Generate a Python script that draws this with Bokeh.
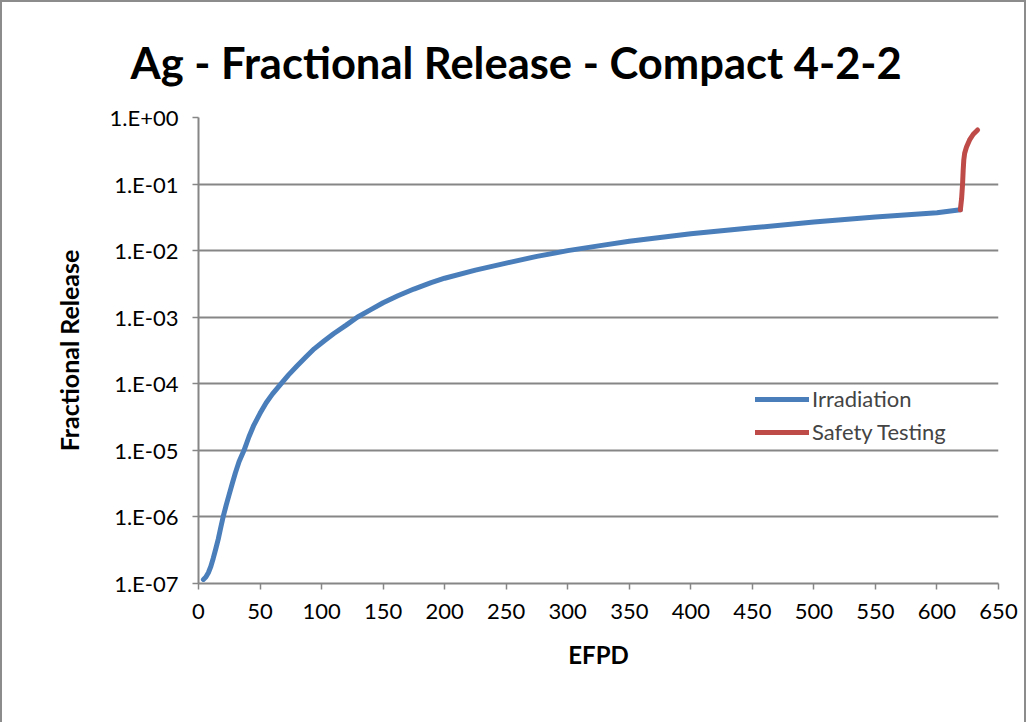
from bokeh.plotting import figure
from bokeh.models import (Range1d, FixedTicker, CustomJSTickFormatter, Legend, LegendItem)
from bokeh.embed import file_html
from bokeh.resources import INLINE

# Irradiation (EFPD, fractional release)
irr_efpd = [4, 6, 8, 10, 12, 14, 16, 18, 20, 22.5, 25, 27.5, 30, 33, 37, 41, 45, 50, 55, 60,
            67, 73, 80, 87, 94, 102, 110, 120, 129, 140, 150, 162, 175, 189, 200, 225, 250,
            275, 300, 325, 350, 375, 400, 450, 500, 550, 600, 619]
irr_fr = [1.15e-7, 1.25e-7, 1.45e-7, 1.8e-7, 2.4e-7, 3.3e-7, 4.6e-7, 6.8e-7, 1.0e-6,
          1.5e-6, 2.2e-6, 3.2e-6, 4.6e-6, 6.8e-6, 1.0e-5, 1.6e-5, 2.4e-5, 3.6e-5, 5.2e-5,
          7.0e-5, 1.0e-4, 1.35e-4, 1.85e-4, 2.5e-4, 3.35e-4, 4.4e-4, 5.7e-4, 7.6e-4, 1.0e-3,
          1.3e-3, 1.65e-3, 2.1e-3, 2.65e-3, 3.3e-3, 3.85e-3, 5.1e-3, 6.5e-3, 8.2e-3, 1.0e-2,
          1.18e-2, 1.38e-2, 1.58e-2, 1.8e-2, 2.2e-2, 2.7e-2, 3.2e-2, 3.7e-2, 4.1e-2]

# Safety testing
st_efpd = [619, 620, 620.8, 621.3, 621.8, 622.5, 624, 626.5, 629.5, 633]
st_fr = [4.1e-2, 6.0e-2, 1.0e-1, 1.6e-1, 2.3e-1, 2.9e-1, 3.6e-1, 4.6e-1, 5.6e-1, 6.5e-1]

x_ticks = list(range(0, 651, 50))
y_ticks = [1e-7, 1e-6, 1e-5, 1e-4, 1e-3, 1e-2, 1e-1, 1e0]

FONT = "Lato"
GRID = "#868686"

p = figure(width=1026, height=722, y_axis_type="log", output_backend="svg",
           toolbar_location=None, x_range=Range1d(0, 650), y_range=Range1d(1e-7, 1e0),
           min_border_left=196, min_border_right=30, min_border_top=115,
           min_border_bottom=141, title="Ag - Fractional Release - Compact 4-2-2")
p.outline_line_color = None
p.background_fill_color = "white"
p.border_fill_color = "white"

p.title.align = "left"
p.title.offset = -68
p.title.standoff = 60
p.title.text_font = FONT
p.title.text_font_style = "bold"
p.title.text_font_size = "43.5px"
p.title.text_color = "black"

r1 = p.line(irr_efpd, irr_fr, line_color="#4a7ebb", line_width=5, line_cap="round",
            line_join="round")
r2 = p.line(st_efpd, st_fr, line_color="#be4b48", line_width=5, line_cap="round",
            line_join="round")

p.xaxis.ticker = FixedTicker(ticks=x_ticks)
p.yaxis.ticker = FixedTicker(ticks=y_ticks)
p.yaxis.formatter = CustomJSTickFormatter(code="""
const e = Math.round(Math.log10(tick));
const s = e >= 0 ? "+" : "-";
const a = Math.abs(e);
return "1.E" + s + (a < 10 ? "0" + a : "" + a);
""")

for ax in (p.xaxis, p.yaxis):
    ax.axis_line_color = GRID
    ax.axis_line_width = 2
    ax.major_tick_line_color = GRID
    ax.major_tick_line_width = 1.5
    ax.major_tick_out = 6
    ax.major_tick_in = 0
    ax.minor_tick_line_color = None
    ax.major_label_text_font = FONT
    ax.major_label_text_font_size = "22px"
    ax.major_label_text_color = "black"
    ax.axis_label_text_font = FONT
    ax.axis_label_text_font_style = "bold"
    ax.axis_label_text_color = "black"

p.xaxis.axis_label = "EFPD"
p.yaxis.axis_label = "Fractional Release"
p.xaxis.axis_label_text_font_size = "24px"
p.yaxis.axis_label_text_font_size = "25px"
p.xaxis.major_label_standoff = 14
p.xaxis.axis_label_standoff = 18
p.yaxis.major_label_standoff = 14
p.yaxis.axis_label_standoff = 23

p.xgrid.grid_line_color = None
p.ygrid.grid_line_color = GRID
p.ygrid.grid_line_width = 2
p.ygrid.minor_grid_line_color = None

legend = Legend(items=[LegendItem(label="Irradiation", renderers=[r1]),
                       LegendItem(label="Safety Testing", renderers=[r2])],
                location=(557, 138), background_fill_alpha=0, border_line_color=None,
                label_text_font=FONT, label_text_font_size="22px", glyph_width=54,
                label_standoff=3, spacing=6, padding=0, margin=0, glyph_height=20,
                label_height=26)
p.add_layout(legend)

p.styles = {"border-left": "2px solid #8c8c8c", "border-top": "2px solid #8c8c8c",
            "border-right": "2px solid #8c8c8c"}

open("out.html", "w").write(file_html(p, INLINE))
